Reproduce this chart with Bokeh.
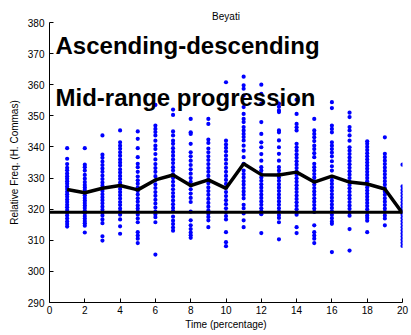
from bokeh.plotting import figure
from bokeh.models import Range1d, Span, Label, FixedTicker, ColumnDataSource
from bokeh.embed import file_html
from bokeh.resources import INLINE

# ---------------- data ----------------
title_text = "Beyati"
x_label = "Time (percentage)"
y_label = "Relative Freq. (H. Commas)"
note_1 = "Ascending-descending"
note_2 = "Mid-range progression"

time_points = list(range(1, 21))
mean_curve = [326.3, 325.3, 326.7, 327.6, 326.2, 329.4, 331.0, 327.6, 329.4, 326.7,
              334.6, 331.1, 331.0, 331.9, 328.7, 330.6, 328.7, 328.1, 326.5, 318.7]
tonic_level = 319.0

col01 = [339.6, 336.2, 334.5, 333.3, 332.5, 331.5, 330.6, 329.8, 329, 328.2, 327.3, 326.5, 325.6,
         324.8, 324, 323.1, 322.3, 321.4, 320.6, 319.7, 318.9, 318, 317, 316, 315.2, 314.4]
col02 = [339.6, 334.3, 333.5, 332.4, 331, 329.8, 328.7, 327.8, 327, 326.2, 325.3, 324.5, 323.6,
         322.8, 322, 321.2, 320.4, 319.5, 318.7, 317.8, 317, 316.2, 315.5, 314.7, 312.5]
col03 = [343.7, 337.5, 336.5, 335.3, 334.2, 333.1, 332, 330.8, 329.7, 328.6, 327.6, 326.7, 325.8,
         324.8, 323.8, 322.9, 321.9, 320.8, 319.8, 318.9, 318, 316.7, 315.5, 311.3, 309.9]
col04 = [345.3, 341.5, 340.4, 339.4, 338.3, 337.2, 336, 335, 334, 332.8, 331.8, 330.7, 329.7, 328.5,
         327.5, 326.5, 325.5, 324.5, 323.4, 322.3, 321.3, 320.2, 319.2, 318.2, 316.7, 314.5, 312.1]
col05 = [345, 342.6, 339.6, 336.7, 334.6, 333.5, 332, 330.5, 329.3, 328.2, 327, 325.8, 324.7, 323.5,
         322.4, 321.2, 320.2, 319.2, 318.2, 317, 315.8, 312.6, 311.5, 310.5, 309.1]
col06 = [353.5, 346.9, 345.8, 344.8, 343.7, 342, 340.4, 339.3, 337.7, 336, 334.5, 333.2, 332, 330.6,
         329.3, 328, 326.8, 325.5, 324.3, 323, 321.8, 320.5, 319.2, 318.3, 317.4, 315.8, 305.4]
col07 = [352, 350.3, 345, 343.7, 342, 341, 339.6, 338.4, 337.2, 336, 334.8, 333.5, 332.4, 331.2, 330,
         328.8, 327.6, 326.4, 325.2, 324, 322.8, 321.6, 320.4, 319.4, 317.6, 316.3, 315.2, 314.1, 313.1]
col08 = [349, 344.7, 344.2, 341, 338.3, 337, 335.6, 334.2, 332.8, 331.4, 330, 328.8, 327.6, 326.4,
         325, 323.6, 322.3, 319.2, 316.4, 314.8, 313.6, 312.5, 311.6, 310.8]
col09 = [349, 347.4, 342.4, 341.3, 339.5, 338.3, 337, 335.8, 334.5, 333.2, 332, 330.7, 329.5, 328.3,
         327, 325.8, 324.6, 323.3, 322, 320.8, 319.6, 318.5, 317.5, 316.4, 314.2]
col10 = [360.8, 356.5, 342, 340.8, 339.7, 338.5, 337.2, 335.9, 334.6, 333.3, 332, 330.7, 329.4, 328.1,
         326.8, 325.5, 324.2, 322.9, 321.6, 320.3, 319, 317.8, 316.7, 312.6, 309.4, 308.1]
col11 = [362.6, 359.8, 358.7, 356.5, 352.8, 350.6, 349, 348, 346.4, 345.3, 344.2, 343.2, 342.1,
         340.4, 338.8, 336.7, 334.6, 332.4, 331.3, 330.2, 329, 327.9, 326.8, 325.7, 324.6, 323.5,
         321.4, 320.3, 318.6, 316.4, 314.2]
col12 = [360, 357.1, 353.9, 348, 344.2, 341.5, 339.9, 337.7, 335.6, 333.5, 332.4, 331.3, 330.2,
         329.1, 328, 326.9, 325.8, 324.7, 323.6, 322.5, 321.4, 320.3, 319.3, 318.4, 312.3]
col13 = [353.9, 352.9, 351.8, 351.2, 345.3, 344.7, 342.1, 339.9, 337.8, 335.6, 333.5, 332.4, 331.3,
         330.2, 329.1, 328, 326.9, 325.8, 324.7, 323.6, 322.5, 321.4, 320.3, 319.2, 318.1, 317.2,
         315.8, 310.3]
col14 = [355.2, 350.6, 347.4, 346.3, 345.3, 341, 339.9, 338.8, 337.6, 336.5, 335.4, 334.3, 333.2,
         332.1, 331, 329.9, 328.8, 327.7, 326.6, 325.5, 324.4, 323.3, 322.2, 321.1, 320, 318.9,
         318.2, 314.2, 312.3]
col15 = [349, 345.3, 344.2, 343.1, 341.9, 340.4, 339.3, 338, 336.7, 334.6, 333.5, 332.4, 331.3,
         330.2, 329, 327.9, 326.8, 325.7, 324.6, 323.5, 322.4, 321.3, 320.2, 319.1, 314.8, 312.6,
         311.5, 310.5, 309.1]
col16 = [354.4, 352.5, 346.9, 345.8, 344.7, 341.5, 340.4, 339.3, 338.2, 337, 335.4, 333.8, 332.4,
         330.3, 329.2, 328.1, 327, 325.9, 324.8, 323.7, 322.6, 321.5, 320.4, 319.3, 318.2, 317.1,
         316, 315.3, 306.2]
col17 = [351, 349.6, 346.4, 345.3, 343.7, 342, 339.9, 338.8, 337.7, 336.6, 335.5, 334.4, 333.3,
         332.2, 331.1, 330, 328.9, 327.8, 326.7, 325.6, 324.5, 323.4, 322.3, 321.2, 320.1, 319,
         317.9, 313.6, 306.7]
col18 = [341.8, 341, 340, 339, 338, 337, 336, 335, 334, 333, 332, 331, 330, 329, 328, 327, 326, 325,
         324, 323, 322, 321, 320, 319, 318, 317.2, 316.3, 312.6]
col19 = [343.1, 337.8, 336.7, 335.6, 334.5, 333.4, 332.3, 331.2, 330.1, 329, 327.9, 326.8, 325.7,
         324.6, 323.5, 322.4, 321.3, 320.2, 319.1, 318, 317, 314.8]
col20 = [334.3, 327.3, 326.2, 325.2, 324.2, 323.2, 322.2, 321.2, 320.2, 319.2, 318.2, 317.2, 316.2,
         315.2, 314.2, 313.2, 312.2, 311.2, 310.2, 309.2, 308.2]

columns = [col01, col02, col03, col04, col05, col06, col07, col08, col09, col10,
           col11, col12, col13, col14, col15, col16, col17, col18, col19, col20]

x_ticks = list(range(0, 21, 2))
y_ticks = list(range(290, 381, 10))

# ---------------- figure ----------------
FONT = "Liberation Sans"

p = figure(width=411, height=335, output_backend="svg", toolbar_location=None,
           x_range=Range1d(0, 20), y_range=Range1d(290, 380),
           min_border_left=49, min_border_right=9, min_border_top=22, min_border_bottom=33,
           title=title_text)
p.outline_line_color = None
p.background_fill_color = "white"
p.border_fill_color = "white"
p.xgrid.visible = False
p.ygrid.visible = False

p.title.align = "center"
p.title.text_font = FONT
p.title.text_font_size = "10px"
p.title.text_font_style = "normal"
p.title.text_color = "black"
p.title.standoff = 2
p.title.offset = 0

xs, ys = [], []
for t, vals in zip(time_points, columns):
    xs.extend([t] * len(vals))
    ys.extend(vals)
src = ColumnDataSource(dict(x=xs, y=ys))
p.scatter("x", "y", source=src, size=4.2, fill_color="#0000ff", line_color=None)

p.add_layout(Span(location=tonic_level, dimension="width", line_color="black", line_width=3))
p.line(time_points, mean_curve, line_color="black", line_width=3.5)

for ax, ticks in ((p.xaxis[0], x_ticks), (p.yaxis[0], y_ticks)):
    ax.ticker = FixedTicker(ticks=ticks)
    ax.minor_tick_line_color = None
    ax.major_tick_in = 4
    ax.major_tick_out = 0
    ax.axis_line_color = "black"
    ax.major_tick_line_color = "black"
    ax.major_label_text_font = FONT
    ax.major_label_text_font_size = "10px"
    ax.major_label_text_color = "black"
    ax.axis_label_text_font = FONT
    ax.axis_label_text_font_size = "10px"
    ax.axis_label_text_font_style = "normal"
    ax.axis_label_text_color = "black"

p.xaxis[0].axis_label = x_label
p.yaxis[0].axis_label = y_label
p.xaxis[0].major_label_standoff = 3
p.xaxis[0].axis_label_standoff = 2
p.yaxis[0].major_label_standoff = 5
p.yaxis[0].axis_label_standoff = 5

for txt, yv in ((note_1, 372.6), (note_2, 355.8)):
    p.add_layout(Label(x=0.34, y=yv, text=txt, text_font=FONT, text_font_size="24px",
                       text_font_style="bold", text_color="black",
                       text_baseline="alphabetic", text_align="left"))

open("out.html", "w").write(file_html(p, INLINE))
